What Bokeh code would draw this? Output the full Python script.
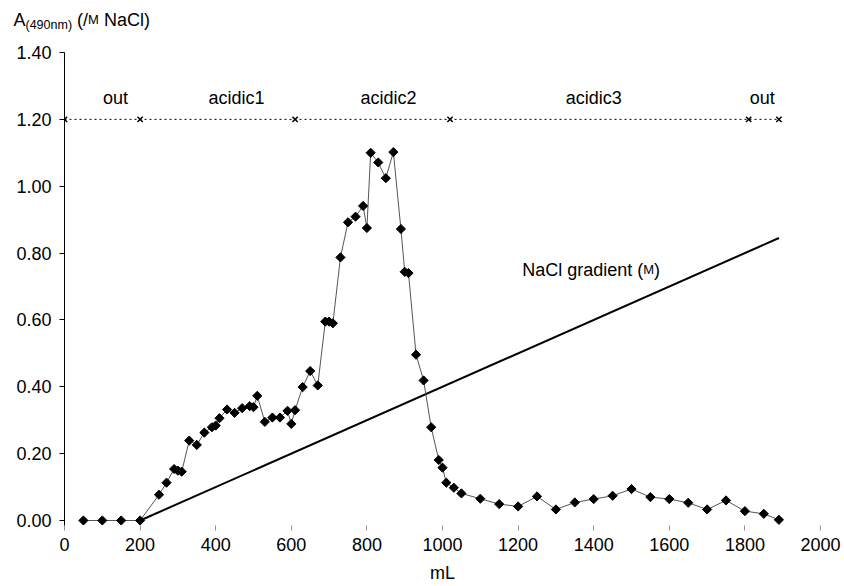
import numpy as np
from bokeh.plotting import figure
from bokeh.layouts import column
from bokeh.models import Range1d, FixedTicker, PrintfTickFormatter, Label
from bokeh.embed import file_html
from bokeh.resources import INLINE
from bokeh.core.properties import value

# ---- data ----
volume_ml = [50, 100, 150, 200, 250, 270, 290, 300, 310, 330, 350, 370, 390, 400,
             410, 430, 450, 470, 490, 500, 510, 530, 550, 570, 590, 600, 610, 630,
             650, 670, 690, 700, 710, 730, 750, 770, 790, 800, 810, 830, 850, 870,
             890, 900, 910, 930, 950, 970, 990, 1000, 1010, 1030, 1050, 1100, 1150,
             1200, 1250, 1300, 1350, 1400, 1450, 1500, 1550, 1600, 1650, 1700, 1750,
             1800, 1850, 1890]
absorbance = [0.0, 0.0, 0.0, 0.0, 0.077, 0.113, 0.154, 0.149, 0.146, 0.239, 0.226,
              0.263, 0.279, 0.284, 0.306, 0.332, 0.322, 0.336, 0.342, 0.339, 0.373,
              0.295, 0.308, 0.308, 0.328, 0.289, 0.330, 0.399, 0.447, 0.404, 0.595,
              0.595, 0.590, 0.787, 0.892, 0.909, 0.941, 0.875, 1.100, 1.071, 1.024,
              1.102, 0.872, 0.744, 0.740, 0.496, 0.419, 0.279, 0.181, 0.158, 0.113,
              0.098, 0.081, 0.065, 0.049, 0.042, 0.072, 0.033, 0.054, 0.064, 0.074,
              0.094, 0.070, 0.064, 0.053, 0.033, 0.060, 0.028, 0.020, 0.002]

gradient_ml = [200, 1890]
gradient_m = [0.0, 0.845]

fraction_bounds_ml = [0, 200, 610, 1020, 1810, 1890]
fraction_level = 1.20
fraction_names = ["out", "acidic1", "acidic2", "acidic3", "out"]
fraction_name_ml = [135, 455, 857, 1400, 1846]

x_ticks = [0, 200, 400, 600, 800, 1000, 1200, 1400, 1600, 1800, 2000]
y_ticks = [0.0, 0.2, 0.4, 0.6, 0.8, 1.0, 1.2, 1.4]

FONT = "Liberation Sans"
FS = 18
PX_PER_UNIT = 334.3

# Arial advance widths (1/1000 em)
W = {' ': 278, '(': 333, ')': 333, '/': 278, 'N': 722, 'a': 556, 'C': 722, 'l': 222,
     'g': 556, 'r': 333, 'd': 556, 'i': 222, 'e': 556, 'n': 556, 't': 278, 'M': 833,
     'A': 667, '4': 556, '9': 556, '0': 556, 'm': 833}


def tw(s, size):
    return sum(W[c] for c in s) / 1000.0 * size


# ---- title strip (its own small figure so the text is not clipped) ----
TITLE_H = 40
t = figure(width=844, height=TITLE_H, output_backend="svg", toolbar_location=None,
           x_range=Range1d(0, 844), y_range=Range1d(0, TITLE_H),
           min_border_left=0, min_border_right=0, min_border_top=0,
           min_border_bottom=0, x_axis_type=None, y_axis_type=None)
t.frame_align = False
t.grid.visible = False
t.outline_line_color = None
# (text, font size, baseline shift down, leading space count)
tparts = [("A", FS, 0, 0), ("(490nm)", 12.5, 5, 0), ("(/", FS, 0, 1),
          ("M", 13, 0, 0), ("NaCl)", FS, 0, 1)]
off = 0.0
for txt, sz, dy, lead in tparts:
    off += lead * tw(" ", FS)
    t.text(x=[13], y=[TITLE_H - 19], text=[txt], x_offset=off, y_offset=dy,
           text_font=value(FONT), text_font_size=f"{sz}px",
           text_align="left", text_baseline="alphabetic", text_color="black")
    off += tw(txt, sz)

# ---- main chart ----
p = figure(width=844, height=586 - TITLE_H, output_backend="svg",
           toolbar_location=None,
           x_range=Range1d(0, 2000), y_range=Range1d(-0.015, 1.40),
           min_border_left=64, min_border_right=24, min_border_top=52 - TITLE_H,
           min_border_bottom=61)
p.frame_align = False
p.grid.visible = False
p.outline_line_color = None

p.xaxis.ticker = FixedTicker(ticks=x_ticks)
p.yaxis.ticker = FixedTicker(ticks=y_ticks)
p.yaxis.formatter = PrintfTickFormatter(format="%.2f")
p.xaxis.axis_line_color = None
p.xaxis.major_tick_line_color = "#909090"
p.xaxis.major_tick_in = 0
p.xaxis.major_tick_out = 5
p.xaxis.minor_tick_line_color = None
p.xaxis.major_label_standoff = 7
p.xaxis.axis_label = "mL"
p.xaxis.axis_label_standoff = 9
p.xaxis.axis_label_text_font = FONT
p.xaxis.axis_label_text_font_size = f"{FS}px"
p.xaxis.axis_label_text_font_style = "normal"
p.xaxis.axis_label_text_color = "black"
p.yaxis.axis_line_color = "black"
p.yaxis.major_tick_line_color = "black"
p.yaxis.major_tick_in = 0
p.yaxis.major_tick_out = 5
p.yaxis.minor_tick_line_color = None
p.yaxis.major_label_standoff = 8
for ax in (p.xaxis, p.yaxis):
    ax.major_label_text_font = FONT
    ax.major_label_text_font_size = f"{FS}px"
    ax.major_label_text_color = "black"

# fraction guide line at 1.20
p.line(fraction_bounds_ml, [fraction_level] * len(fraction_bounds_ml),
       line_color="black", line_width=1, line_dash="2 3")
p.scatter(fraction_bounds_ml, [fraction_level] * len(fraction_bounds_ml),
          marker="x", size=7.5, line_color="black", line_width=1.5)
for name, xm in zip(fraction_names, fraction_name_ml):
    p.add_layout(Label(x=xm, y=fraction_level + 21 / PX_PER_UNIT, text=name,
                       text_font=FONT, text_font_size=f"{FS}px",
                       text_align="center", text_baseline="middle",
                       text_color="black"))

# NaCl gradient
p.line(gradient_ml, gradient_m, line_color="black", line_width=2)

# absorbance
p.line(volume_ml, absorbance, line_color="#555555", line_width=1)
p.scatter(volume_ml, absorbance, marker="square", angle=np.pi / 4, size=6.5,
          fill_color="black", line_color="black")

# gradient label: "NaCl gradient (M)" with small-caps M
gx, gy = 1211, 0.768
parts = [("NaCl gradient (", FS), ("M", 13), (")", FS)]
off = 0.0
for txt, sz in parts:
    p.add_layout(Label(x=gx, y=gy, x_offset=off, y_offset=-6, text=txt,
                       text_font=FONT, text_font_size=f"{sz}px",
                       text_align="left", text_baseline="alphabetic",
                       text_color="black"))
    off += tw(txt, sz)

layout = column(t, p, spacing=0)
open("out.html", "w").write(file_html(layout, INLINE))
